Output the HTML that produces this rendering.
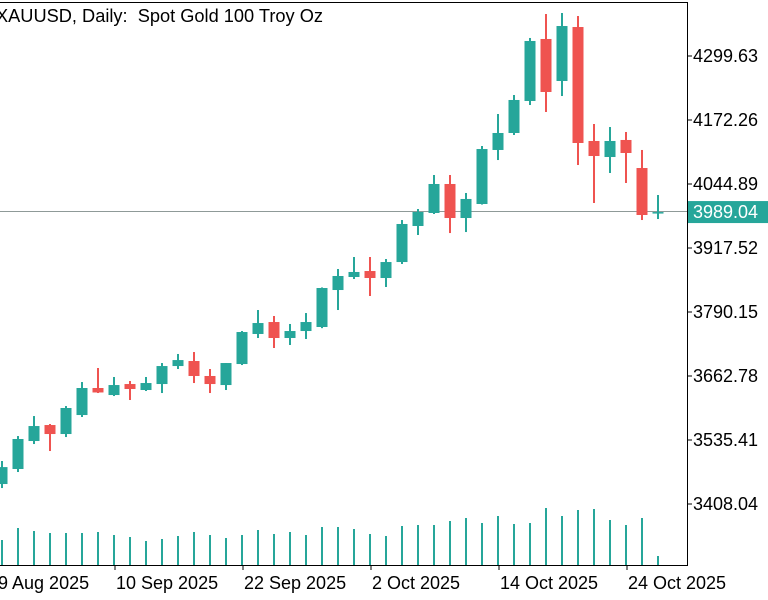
<!DOCTYPE html>
<html><head><meta charset="utf-8"><style>
html,body{margin:0;padding:0;background:#fff;width:768px;height:600px;overflow:hidden}
svg{display:block;font-family:"Liberation Sans",sans-serif}
</style></head><body>
<svg id="chart" width="768" height="600" viewBox="0 0 768 600" xmlns="http://www.w3.org/2000/svg">
<rect x="0" y="0" width="768" height="600" fill="#fff"/>
<g id="grid"></g>
<g id="vol"></g>
<g id="candles"></g>
<g id="axes"></g>
<text x="-4" y="22" font-size="18" fill="#000" textLength="327" lengthAdjust="spacingAndGlyphs">XAUUSD, Daily:&#160; Spot Gold 100 Troy Oz</text>
</svg>
<script>
const opens  = [3447.8,3477.7,3533.4,3565.2,3547.3,3585.1,3638.9,3624.9,3646.8,3634.9,3646.8,3682.6,3692.6,3662.8,3644.8,3686.6,3746.4,3770.2,3738.4,3752.3,3760.3,3833.9,3859.8,3871.7,3857.8,3889.6,3961.3,3987.2,4044.9,3977.2,4005.1,4112.6,4146.4,4210.1,4333.5,4249.9,4357.3,4130.5,4098.6,4132.5,4076.7,3987.5];
const highs  = [3493.6,3543.3,3583.1,3567.2,3603.0,3650.8,3678.7,3660.8,3652.8,3660.8,3688.6,3706.6,3710.5,3676.7,3688.6,3752.3,3794.1,3782.2,3766.3,3788.1,3839.0,3875.7,3899.6,3899.6,3895.6,3973.2,3995.1,4062.8,4062.8,4027.0,4120.5,4184.2,4222.0,4335.5,4383.2,4385.2,4379.2,4164.3,4158.3,4148.4,4112.6,4023.0];
const lows   = [3439.8,3471.7,3527.4,3513.5,3541.3,3581.2,3628.9,3622.9,3615.0,3632.9,3628.9,3676.7,3648.8,3628.9,3634.9,3684.6,3738.4,3718.5,3724.5,3736.4,3758.0,3794.1,3855.8,3822.0,3839.9,3885.7,3943.4,3985.2,3947.3,3949.3,4004.0,4092.6,4142.4,4202.1,4188.2,4220.0,4082.7,4007.1,4066.8,4046.9,3973.2,3975.2];
const closes = [3481.5,3537.4,3563.2,3547.3,3599.1,3638.9,3630.0,3644.8,3636.9,3648.8,3682.6,3694.5,3662.8,3646.8,3688.6,3750.3,3768.2,3738.4,3752.3,3770.2,3837.9,3861.8,3869.8,3857.8,3889.6,3965.3,3989.2,4044.9,3977.2,4015.1,4114.5,4146.4,4212.1,4329.5,4228.0,4359.3,4126.5,4100.6,4130.5,4106.6,3983.2,3989.04];
const volumes = [23,35,32,30,30,30,31,28,26,22,24,27,31,28,25,28,33,29,31,28,36,36,34,29,27,37,38,38,42,45,40,47,39,40,55,47,53,54,43,38,45,7];
const priceTicks = [4299.63,4172.26,4044.89,3917.52,3790.15,3662.78,3535.41,3408.04];
const dateLabels = ["29 Aug 2025","10 Sep 2025","22 Sep 2025","2 Oct 2025","14 Oct 2025","24 Oct 2025"];
const dateIdx = [-1,7,15,23,31,39];
const lastPrice = 3989.04;

const NS="http://www.w3.org/2000/svg";
const plotRight=687, plotBottom=565;
function yScale(p){return 56+(4299.63-p)*448/891.59;}
function xScale(i){return 2+16*i;}
const volMax=55;
function vScale(v){return plotBottom-2-v*(55/volMax);}
function mk(tag,attrs,parent){const e=document.createElementNS(NS,tag);for(const k in attrs)e.setAttribute(k,attrs[k]);parent.appendChild(e);return e;}

const gC=document.getElementById('candles'), gV=document.getElementById('vol'), gA=document.getElementById('axes');
// price line (behind candles)
const pl=mk('line',{x1:0,x2:plotRight,y1:Math.round(yScale(lastPrice))-0.5,y2:Math.round(yScale(lastPrice))-0.5,stroke:'#8f9a98','stroke-width':1},document.getElementById('grid'));


for(let i=0;i<opens.length;i++){
  const up=closes[i]>=opens[i], col=up?'#26a69a':'#ef5350', x=xScale(i);
  const w=mk('rect',{x:x-1,y:yScale(highs[i]),width:2,height:Math.max(1,yScale(lows[i])-yScale(highs[i])),fill:col},gC);
  
  
  const top=yScale(Math.max(opens[i],closes[i])), bot=yScale(Math.min(opens[i],closes[i]));
  const b=mk('rect',{x:x-5.5,y:top,width:11,height:Math.max(1.5,bot-top),fill:col},gC);
  
  
  const v=mk('rect',{x:x-1,y:vScale(volumes[i]),width:2,height:plotBottom-vScale(volumes[i]),fill:'#26a69a'},gV);
  
  
}
const fr=mk('path',{d:`M0 2.5 H${plotRight+0.5} V${plotBottom+0.5} H0`,fill:'none',stroke:'#000','stroke-width':1},gA);


priceTicks.forEach(p=>{
  const y=yScale(p);
  const t=mk('line',{x1:plotRight,x2:plotRight+5,y1:y,y2:y,stroke:'#000'},gA);
  
  
  const l=mk('text',{x:693,y:y+6,'font-size':18,fill:'#000'},gA);
  l.textContent=p.toFixed(2);
  
  
});
const ly=yScale(lastPrice);
const bx=mk('rect',{x:688,y:ly-11,width:80,height:22,fill:'#26a69a'},gA);


const bt=mk('text',{x:693,y:ly+6,'font-size':18,fill:'#fff'},gA);
bt.textContent=lastPrice.toFixed(2);


dateLabels.forEach((d,k)=>{
  const x=xScale(dateIdx[k])+1;
  const t=mk('line',{x1:x,x2:x,y1:plotBottom,y2:plotBottom+5,stroke:'#000'},gA);
  
  
  const l=mk('text',{x:x+1,y:589,'font-size':18,fill:'#000'},gA);
  l.textContent=d;
  
  
});
</script>
</body></html>
